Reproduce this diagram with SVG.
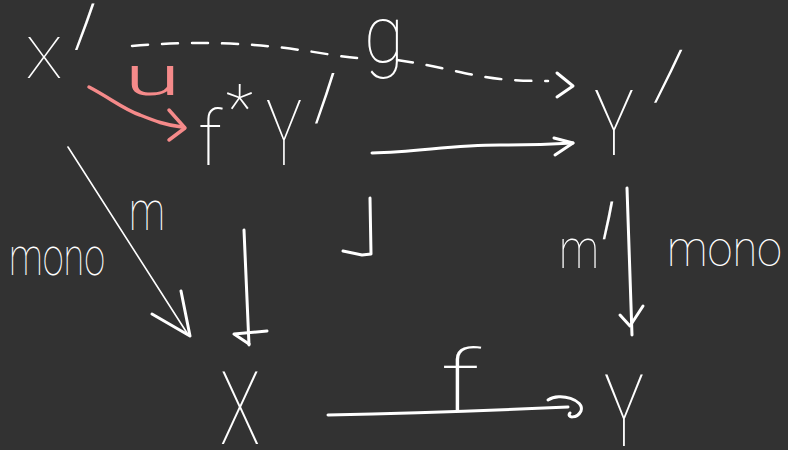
<svg xmlns="http://www.w3.org/2000/svg" width="788" height="450" viewBox="0 0 788 450">
<style>
.bg{fill:#323232}
.t{fill:#ffffff;font-family:Roboto,"Liberation Sans","DejaVu Sans",sans-serif;font-weight:100}
.tp{fill:#f58a8a;font-family:Roboto,"Liberation Sans","DejaVu Sans",sans-serif;font-weight:300}
.s{fill:none;stroke:#ffffff;stroke-width:3;stroke-linecap:round;stroke-linejoin:round}
.thin{fill:none;stroke:#ffffff;stroke-width:1.6;stroke-linecap:round;stroke-linejoin:round}
.d{fill:none;stroke:#ffffff;stroke-width:2.5;stroke-linecap:round;stroke-dasharray:16 14}
.p{fill:none;stroke:#f58a8a;stroke-width:3.5;stroke-linecap:round;stroke-linejoin:round}
</style>
<rect class="bg" x="0" y="0" width="788" height="450"/>
<g id="node-Xp">
<text class="t" x="26" y="78" font-size="58" textLength="36" lengthAdjust="spacingAndGlyphs">X</text>
<text class="t" transform="translate(24,176) scale(1,2.3) skewX(-39)" x="0" y="0" font-size="100">′</text>
</g>
<g id="node-fstarYp">
<text class="t" x="198" y="165" font-size="76">f<tspan x="226" y="130" font-size="64">*</tspan><tspan x="266" y="165" font-size="90" textLength="36" lengthAdjust="spacingAndGlyphs">Y</tspan></text>
<text class="t" transform="translate(264,260.5) scale(1,2.5) skewX(-39)" x="0" y="0" font-size="100">′</text>
</g>
<g id="node-Yp">
<text class="t" x="594" y="155" font-size="90" textLength="40" lengthAdjust="spacingAndGlyphs">Y</text>
<text class="t" transform="translate(579,246.6) scale(1,2.625) skewX(-51.3)" x="0" y="0" font-size="100">′</text>
</g>
<g id="node-X"><text class="t" x="220" y="444" font-size="102" textLength="40" lengthAdjust="spacingAndGlyphs">X</text></g>
<g id="node-Y"><text class="t" x="604" y="446" font-size="100" textLength="40" lengthAdjust="spacingAndGlyphs">Y</text></g>
<g id="connectors">
<path class="d" d="M132 46 C200 40 260 44 300 50 C330 54 345 58 362 58"/>
<path class="d" d="M397 60 C440 66 470 76 500 79 C520 81 535 81 548 81"/>
<polyline class="s" points="557,73 573,86 557,97"/>
<path class="p" d="M89 87 C110 98 125 110 140 115 C155 121 165 125 182 127"/>
<polyline class="p" points="169,110 185,128 169,140"/>
<path class="s" d="M372 153 C420 152 450 145 500 145 C530 145 555 144 573 143"/>
<polyline class="s" points="554,138 573,143 555,155"/>
<polyline class="s" points="343,251 362,255 371,254 370,198"/>
<line class="thin" x1="68" y1="147" x2="187" y2="333"/>
<polyline class="s" points="181,291 190,336 152,314"/>
<line class="s" x1="244" y1="230" x2="249" y2="345"/>
<polyline class="s" points="267,331 234,334 249,344"/>
<path class="s" d="M328 415 C420 413 500 410 568 407"/>
<path class="s" d="M548 400 C560 392 585 400 581 411 C577 419 566 418 570 413"/>
<line class="s" x1="627" y1="188" x2="632" y2="335"/>
<polyline class="s" points="620,315 630,326 643,306"/>
</g>
<g id="labels">
<text class="t" x="364" y="62" font-size="80" textLength="40" lengthAdjust="spacingAndGlyphs">g</text>
<text class="tp" x="124" y="95" font-size="56" textLength="57" lengthAdjust="spacingAndGlyphs">u</text>
<text class="t" x="129" y="230" font-size="56" textLength="36" lengthAdjust="spacingAndGlyphs">m</text>
<text class="t" x="9" y="275" font-size="54" textLength="96" lengthAdjust="spacingAndGlyphs">mono</text>
<text class="t" x="440" y="410" font-size="84" textLength="40" lengthAdjust="spacingAndGlyphs">f</text>
<text class="t" x="559" y="268" font-size="56" textLength="40" lengthAdjust="spacingAndGlyphs">m</text>
<text class="t" transform="translate(576.3,341.9) scale(1,1.875) skewX(-20)" x="0" y="0" font-size="100">′</text>
<text class="t" x="667" y="266" font-size="50" textLength="115" lengthAdjust="spacingAndGlyphs">mono</text>
</g>
</svg>
